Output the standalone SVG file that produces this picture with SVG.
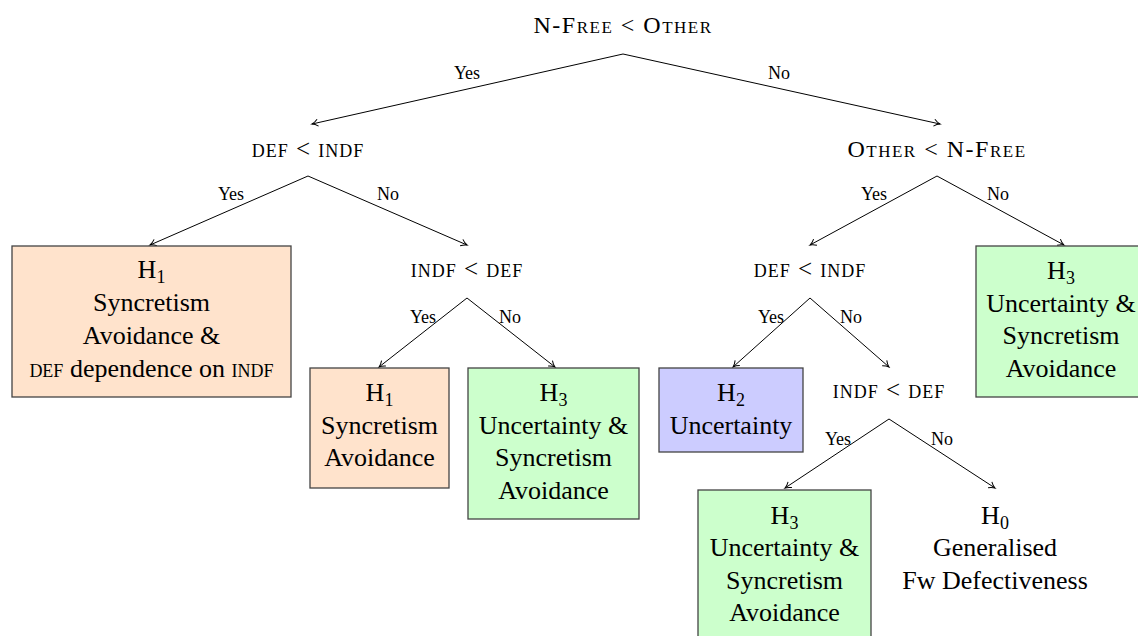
<svg xmlns="http://www.w3.org/2000/svg" width="1138" height="636" viewBox="0 0 1138 636">
<defs>
<marker id="arr" markerWidth="10" markerHeight="10" refX="8" refY="5" orient="auto" markerUnits="userSpaceOnUse">
<path d="M2,1.5 Q5,4.2 8,5 Q5,5.8 2,8.5" fill="none" stroke="#000" stroke-width="1"/>
</marker>
<style>
text{font-family:'Liberation Serif',serif;fill:#000;text-anchor:middle}
.q{font-size:24px;font-variant:small-caps;letter-spacing:1.5px}
.ql{font-size:25px;font-variant:small-caps;letter-spacing:1px}
.e{font-size:18px}
.b{font-size:26px}
.s{font-size:18px}
.sc{font-variant:small-caps}
.peach{fill:#FFE3CC;stroke:#444;stroke-width:1.3}
.green{fill:#CCFFCC;stroke:#444;stroke-width:1.3}
.blue{fill:#CCCCFF;stroke:#444;stroke-width:1.3}
.c line{stroke:#000;stroke-width:1;marker-end:url(#arr)}
</style>
</defs>
<rect width="1138" height="636" fill="#fff"/>

<g id="connectors" class="c">
<line x1="623" y1="54" x2="312" y2="124"/>
<line x1="623" y1="54" x2="940" y2="124"/>
<line x1="308" y1="176" x2="150" y2="245"/>
<line x1="308" y1="176" x2="467" y2="245"/>
<line x1="467" y1="298" x2="379" y2="367"/>
<line x1="467" y1="298" x2="555" y2="367"/>
<line x1="937" y1="176" x2="810" y2="245"/>
<line x1="937" y1="176" x2="1064" y2="245"/>
<line x1="810" y1="298" x2="733" y2="367"/>
<line x1="810" y1="298" x2="889" y2="367"/>
<line x1="889" y1="419" x2="785" y2="488"/>
<line x1="889" y1="419" x2="995" y2="488"/>
</g>

<g id="edge-labels">
<text class="e" x="467" y="79">Yes</text>
<text class="e" x="779" y="79">No</text>
<text class="e" x="231" y="200">Yes</text>
<text class="e" x="388" y="200">No</text>
<text class="e" x="423" y="323">Yes</text>
<text class="e" x="510" y="323">No</text>
<text class="e" x="874" y="200">Yes</text>
<text class="e" x="998" y="200">No</text>
<text class="e" x="771" y="323">Yes</text>
<text class="e" x="851" y="323">No</text>
<text class="e" x="838" y="445">Yes</text>
<text class="e" x="942" y="445">No</text>
</g>

<g id="q-root"><text class="q" x="623" y="33">N-Free &lt; Other</text></g>
<g id="q-left"><text class="ql" x="308" y="157">def &lt; indf</text></g>
<g id="q-left2"><text class="ql" x="467" y="277">indf &lt; def</text></g>
<g id="q-right"><text class="q" x="937" y="157">Other &lt; N-Free</text></g>
<g id="q-right2"><text class="ql" x="810" y="277">def &lt; indf</text></g>
<g id="q-right3"><text class="ql" x="889" y="398">indf &lt; def</text></g>

<g id="h1-big">
<rect class="peach" x="12" y="246" width="279" height="151"/>
<text class="b" x="151.5" y="278">H<tspan class="s" dy="5">1</tspan></text>
<text class="b" x="151.5" y="311">Syncretism</text>
<text class="b" x="151.5" y="344">Avoidance &amp;</text>
<text class="b" x="151.5" y="377"><tspan class="sc">def</tspan> dependence on <tspan class="sc">indf</tspan></text>
</g>

<g id="h1-small">
<rect class="peach" x="310" y="368" width="139" height="120"/>
<text class="b" x="379.5" y="401">H<tspan class="s" dy="5">1</tspan></text>
<text class="b" x="379.5" y="434">Syncretism</text>
<text class="b" x="379.5" y="466">Avoidance</text>
</g>

<g id="h3-mid">
<rect class="green" x="468" y="368" width="171" height="151"/>
<text class="b" x="553.5" y="401">H<tspan class="s" dy="5">3</tspan></text>
<text class="b" x="553.5" y="434">Uncertainty &amp;</text>
<text class="b" x="553.5" y="466">Syncretism</text>
<text class="b" x="553.5" y="499">Avoidance</text>
</g>

<g id="h3-right">
<rect class="green" x="976" y="246" width="170" height="151"/>
<text class="b" x="1061" y="279">H<tspan class="s" dy="5">3</tspan></text>
<text class="b" x="1061" y="312">Uncertainty &amp;</text>
<text class="b" x="1061" y="344">Syncretism</text>
<text class="b" x="1061" y="377">Avoidance</text>
</g>

<g id="h2">
<rect class="blue" x="659" y="368" width="144" height="84"/>
<text class="b" x="731" y="401">H<tspan class="s" dy="5">2</tspan></text>
<text class="b" x="731" y="434">Uncertainty</text>
</g>

<g id="h3-bottom">
<rect class="green" x="698" y="490" width="173" height="151"/>
<text class="b" x="784.5" y="524">H<tspan class="s" dy="5">3</tspan></text>
<text class="b" x="784.5" y="556">Uncertainty &amp;</text>
<text class="b" x="784.5" y="589">Syncretism</text>
<text class="b" x="784.5" y="621">Avoidance</text>
</g>

<g id="h0">
<text class="b" x="995" y="524">H<tspan class="s" dy="5">0</tspan></text>
<text class="b" x="995" y="556">Generalised</text>
<text class="b" x="995" y="589">Fw Defectiveness</text>
</g>
</svg>
